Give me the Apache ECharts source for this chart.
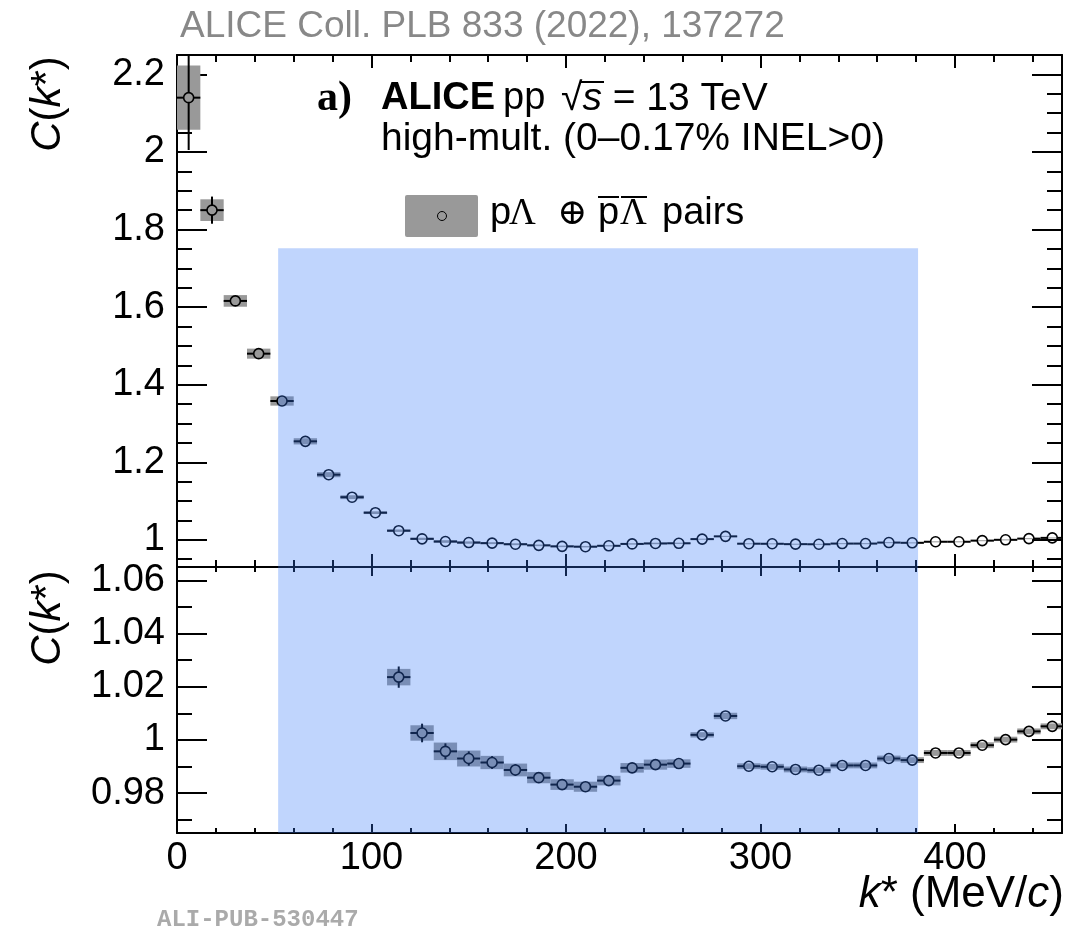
<!DOCTYPE html>
<html>
<head>
<meta charset="utf-8">
<script src="https://cdn.jsdelivr.net/npm/echarts@6/dist/echarts.min.js"></script>
<style>
  html, body { margin: 0; padding: 0; background: #fff; }
  #chart { width: 1066px; height: 932px; }
</style>
</head>
<body>
<div id="chart"></div>
<script>
// k* bin centres (MeV/c), bins are 12 MeV wide
const kStar = [6, 18, 30, 42, 54, 66, 78, 90, 102, 114, 126, 138, 150, 162, 174, 186, 198, 210, 222,
  234, 246, 258, 270, 282, 294, 306, 318, 330, 342, 354, 366, 378, 390, 402, 414, 426, 438, 450]
const cValue = [2.140, 1.850, 1.616, 1.480, 1.358, 1.254, 1.168, 1.110, 1.070, 1.0236, 1.0026, 0.9957,
  0.9930, 0.9915, 0.9887, 0.9858, 0.9832, 0.9824, 0.9847, 0.9895, 0.9907, 0.9911, 1.0019, 1.0090,
  0.9901, 0.9899, 0.9889, 0.9886, 0.9904, 0.9904, 0.9930, 0.9924, 0.9951, 0.9951, 0.9980, 1.0001,
  1.0032, 1.0051]
const statErr = [0.135, 0.035, 0.012, 0.009, 0.007, 0.006, 0.005, 0.005, 0.004, 0.0040, 0.0035, 0.0030,
  0.0027, 0.0024, 0.0022, 0.0020, 0.0019, 0.0018, 0.0017, 0.0016, 0.0015, 0.0015, 0.0014, 0.0013,
  0.0013, 0.0013, 0.0013, 0.0013, 0.0012, 0.0012, 0.0012, 0.0012, 0.0012, 0.0012, 0.0012, 0.0012,
  0.0012, 0.0012]
const sysErr = [0.083, 0.028, 0.015, 0.013, 0.012, 0.008, 0.0065, 0.005, 0.0035, 0.0031, 0.0029, 0.0033,
  0.0030, 0.0025, 0.0024, 0.0021, 0.0020, 0.0019, 0.0018, 0.0018, 0.0019, 0.0016, 0.0010, 0.0012,
  0.0011, 0.0011, 0.0011, 0.0011, 0.0011, 0.0011, 0.0011, 0.0011, 0.0011, 0.0011, 0.0011, 0.0011,
  0.0011, 0.0011]
const binWidth = 12

const xTicks = [0, 100, 200, 300, 400]
const xMinorTicks = [20, 40, 60, 80, 120, 140, 160, 180, 220, 240, 260, 280, 320, 340, 360, 380, 420, 440]
const topTicks = [1, 1.2, 1.4, 1.6, 1.8, 2, 2.2]
const topMinorTicks = [0.95, 1.05, 1.1, 1.15, 1.25, 1.3, 1.35, 1.45, 1.5, 1.55, 1.65, 1.7, 1.75,
  1.85, 1.9, 1.95, 2.05, 2.1, 2.15, 2.25]
const bottomTicks = [0.98, 1, 1.02, 1.04, 1.06]
const bottomMinorTicks = [0.97, 0.99, 1.01, 1.03, 1.05]

// shaded k* region, and its upper edge in each panel
const bandRange = [52, 381]
const bandTop = [1.752, 1.065]

const xRange = [0, 455]
const topRange = [0.93, 2.25]
const bottomRange = [0.965, 1.065]

const sans = 'Liberation Sans'
const serif = 'Liberation Serif, DejaVu Serif'

function makeAxis(gridIndex, position, range, ticks, tickLen, showLine, showLabel) {
  return {
    type: 'value',
    gridIndex: gridIndex,
    position: position,
    min: range[0],
    max: range[1],
    axisLine: {show: showLine, onZero: false, lineStyle: {color: '#000', width: 2}},
    axisTick: {show: true, inside: true, length: tickLen, customValues: ticks, lineStyle: {color: '#000', width: 2}},
    axisLabel: {
      show: showLabel,
      customValues: ticks,
      color: '#000',
      fontFamily: sans,
      fontSize: 38,
      margin: position === 'left' ? 12 : 7
    },
    splitLine: {show: false}
  }
}

function xAxesFor(gridIndex, majorLen, minorLen, labels) {
  return [
    makeAxis(gridIndex, 'bottom', xRange, xTicks, majorLen, true, labels),
    makeAxis(gridIndex, 'bottom', xRange, xMinorTicks, minorLen, false, false),
    makeAxis(gridIndex, 'top', xRange, xTicks, majorLen, true, false),
    makeAxis(gridIndex, 'top', xRange, xMinorTicks, minorLen, false, false)
  ]
}

function yAxesFor(gridIndex, range, major, minor) {
  return [
    makeAxis(gridIndex, 'left', range, major, 30, true, true),
    makeAxis(gridIndex, 'left', range, minor, 15, false, false),
    makeAxis(gridIndex, 'right', range, major, 30, true, false),
    makeAxis(gridIndex, 'right', range, minor, 15, false, false)
  ]
}

const points = kStar.map((k, i) => [k, cValue[i], statErr[i], sysErr[i]])

function renderPoint(params, api) {
  const k = api.value(0), c = api.value(1), st = api.value(2), sy = api.value(3)
  const half = binWidth / 2
  const r = 5
  const p = api.coord([k, c])
  const b0 = api.coord([k - half, c + sy])
  const b1 = api.coord([k + half, c - sy])
  const e0 = api.coord([k, c + st])
  const e1 = api.coord([k, c - st])
  const ls = {stroke: '#000', lineWidth: 2}
  const children = [
    {type: 'rect', shape: {x: b0[0], y: b0[1], width: b1[0] - b0[0], height: Math.max(b1[1] - b0[1], 1)}, style: {fill: '#999999'}},
    {type: 'line', shape: {x1: b0[0], y1: p[1], x2: p[0] - r, y2: p[1]}, style: ls},
    {type: 'line', shape: {x1: p[0] + r, y1: p[1], x2: b1[0], y2: p[1]}, style: ls}
  ]
  if (p[1] - e0[1] > r) {
    children.push({type: 'line', shape: {x1: p[0], y1: e0[1], x2: p[0], y2: p[1] - r}, style: ls})
    children.push({type: 'line', shape: {x1: p[0], y1: p[1] + r, x2: p[0], y2: e1[1]}, style: ls})
  }
  children.push({type: 'circle', shape: {cx: p[0], cy: p[1], r: r}, style: {fill: 'none', stroke: '#000', lineWidth: 1.6}})
  return {type: 'group', children: children}
}

function renderBand(params, api) {
  const a = api.coord([api.value(0), api.value(2)])
  const b = api.coord([api.value(1), api.value(2)])
  const cs = params.coordSys
  return {
    type: 'rect',
    shape: {x: a[0], y: a[1], width: b[0] - a[0], height: cs.y + cs.height - a[1]},
    style: {fill: 'rgba(52,119,250,0.31)'}
  }
}

function txt(x, y, text, font, color, align) {
  return {
    type: 'text', x: x, y: y, z: 100,
    style: {
      text: text, font: font, fill: color || '#000',
      align: align || 'left', verticalAlign: 'middle',
      textAlign: align || 'left', textVerticalAlign: 'middle'
    }
  }
}

function hline(x1, x2, y) {
  return {type: 'line', z: 100, shape: {x1: x1, y1: y, x2: x2, y2: y}, style: {stroke: '#000', lineWidth: 2}}
}

function titleRich(size) {
  return {
    i: {fontFamily: sans, fontStyle: 'italic', fontSize: size, fill: '#000'},
    n: {fontFamily: sans, fontSize: size, fill: '#000'}
  }
}

function yTitle(x, y) {
  return {
    type: 'text', x: x, y: y, rotation: Math.PI / 2, z: 100,
    style: {
      text: '{i|C}{n|(}{i|k}{n|*)}', rich: titleRich(42),
      align: 'center', verticalAlign: 'middle', textAlign: 'center', textVerticalAlign: 'middle'
    }
  }
}

const chart = echarts.init(document.getElementById('chart'))
chart.setOption({
  animation: false,
  backgroundColor: '#fff',
  grid: [
    {left: 177, top: 55, width: 885, height: 512},
    {left: 177, top: 567, width: 885, height: 266}
  ],
  xAxis: xAxesFor(0, 13, 7, false).concat(xAxesFor(1, 9, 5, true)),
  yAxis: yAxesFor(0, topRange, topTicks, topMinorTicks).concat(yAxesFor(1, bottomRange, bottomTicks, bottomMinorTicks)),
  series: [
    {type: 'custom', xAxisIndex: 0, yAxisIndex: 0, clip: true, z: 3, renderItem: renderPoint, data: points},
    {type: 'custom', xAxisIndex: 4, yAxisIndex: 4, clip: true, z: 3, renderItem: renderPoint, data: points},
    {type: 'custom', xAxisIndex: 0, yAxisIndex: 0, z: 10, silent: true, renderItem: renderBand,
      data: [[bandRange[0], bandRange[1], bandTop[0]]]},
    {type: 'custom', xAxisIndex: 4, yAxisIndex: 4, z: 10, silent: true, renderItem: renderBand,
      data: [[bandRange[0], bandRange[1], bandTop[1]]]}
  ],
  graphic: [
    txt(180, 27, 'ALICE Coll. PLB 833 (2022), 137272', '37px ' + sans, '#888'),
    txt(317, 99, 'a)', 'bold 42px ' + serif),
    txt(381, 99, 'ALICE', 'bold 38px ' + sans),
    txt(503, 99, 'pp', '38px ' + sans),
    {
      type: 'text', x: 561, y: 99, z: 100,
      style: {
        text: '{n|√}{i|s}{n| = 13 TeV}', align: 'left', verticalAlign: 'middle',
        rich: {
          n: {fontFamily: sans, fontSize: 39, fill: '#000'},
          i: {fontFamily: sans, fontStyle: 'italic', fontSize: 39, fill: '#000'}
        }
      }
    },
    hline(581, 604, 82),
    txt(381, 139, 'high-mult. (0\u20130.17% INEL>0)', '39px ' + sans),
    {type: 'rect', z: 100, shape: {x: 405, y: 195, width: 73, height: 42, r: 2}, style: {fill: '#999999'}},
    {type: 'circle', z: 101, shape: {cx: 442, cy: 216, r: 4.5}, style: {fill: 'none', stroke: '#000', lineWidth: 1}},
    txt(490, 214, 'p', '38px ' + sans),
    txt(509, 214, 'Λ', '37px ' + serif),
    txt(572, 215, '⊕', '36px ' + serif, '#000', 'center'),
    txt(598, 214, 'p', '38px ' + sans),
    txt(620, 214, 'Λ', '37px ' + serif),
    hline(598, 619, 197),
    hline(621, 647, 197),
    txt(662, 214, 'pairs', '38px ' + sans),
    yTitle(48, 104),
    yTitle(48, 618),
    {
      type: 'text', x: 1064, y: 895, z: 100,
      style: {
        text: '{i|k}{n|* (MeV/}{i|c}{n|)}', align: 'right', verticalAlign: 'middle', textAlign: 'right', textVerticalAlign: 'middle',
        rich: titleRich(44)
      }
    },
    txt(157, 920, 'ALI-PUB-530447', 'bold 24px Liberation Mono', '#aaaaaa')
  ]
})
</script>
</body>
</html>
